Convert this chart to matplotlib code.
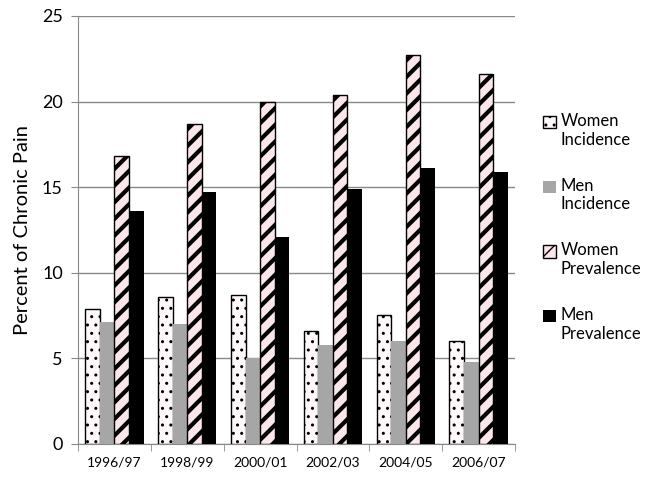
import numpy as np
import matplotlib
matplotlib.use('Agg')
import matplotlib.pyplot as plt
from matplotlib.patches import Patch

plt.rcParams['font.family'] = ['Lato', 'DejaVu Sans']

# Data
years = ['1996/97', '1998/99', '2000/01', '2002/03', '2004/05', '2006/07']
women_incidence = [7.9, 8.6, 8.7, 6.6, 7.5, 6.0]
men_incidence = [7.1, 7.0, 5.0, 5.8, 6.0, 4.8]
women_prevalence = [16.8, 18.7, 20.0, 20.4, 22.7, 21.6]
men_prevalence = [13.6, 14.7, 12.1, 14.9, 16.1, 15.9]

series = [
    ('Women\nIncidence', women_incidence, 1.0,
     dict(facecolor='#fef8fa', edgecolor='black', hatch='..', linewidth=1)),
    ('Men\nIncidence', men_incidence, 1.0,
     dict(facecolor='#a6a6a6', edgecolor='#a6a6a6', linewidth=0)),
    ('Women\nPrevalence', women_prevalence, 3.0,
     dict(facecolor='#fbe6ea', edgecolor='black', hatch='//', linewidth=1)),
    ('Men\nPrevalence', men_prevalence, 1.0,
     dict(facecolor='black', edgecolor='black', linewidth=0)),
]

fig = plt.figure(figsize=(6.56, 4.84), dpi=100)
ax = fig.add_axes([0.119, 0.083, 0.666, 0.884])

x = np.arange(len(years))
w = 0.2
handles = []
for i, (name, vals, hlw, style) in enumerate(series):
    with plt.rc_context({'hatch.linewidth': hlw}):
        ax.bar(x + (i - 1.5) * w, vals, width=w, zorder=3, **style)
        handles.append(Patch(label=name, **style))

ax.set_xlim(-0.5, len(years) - 0.5)
ax.set_ylim(0, 25)
ax.set_yticks(range(0, 26, 5))
ax.tick_params(axis='y', labelsize=13, length=5, color='#888888', pad=6)
ax.set_xticks(x)
ax.set_xticklabels(years, fontsize=10)
ax.tick_params(axis='x', which='major', length=0, pad=9)
ax.set_xticks(np.arange(-0.5, len(years)), minor=True)
ax.tick_params(axis='x', which='minor', length=5, color='#888888')

ax.grid(axis='y', color='#888888', linewidth=1, zorder=0)
for s in ['top', 'right']:
    ax.spines[s].set_visible(False)
for s in ['left', 'bottom']:
    ax.spines[s].set_color('#888888')

ax.set_ylabel('Percent of Chronic Pain', fontsize=14.5, labelpad=8)

leg = fig.legend(handles=handles, loc='center left', bbox_to_anchor=(0.805, 0.53),
                 frameon=False, fontsize=12, handlelength=0.75, handleheight=0.75,
                 handletextpad=0.3, labelspacing=1.8)
# put the legend swatch next to the first line of each label
for h in leg.legend_handles:
    h.set_y(h.get_y() + 6.5)

fig.savefig('out.png', dpi=100)
